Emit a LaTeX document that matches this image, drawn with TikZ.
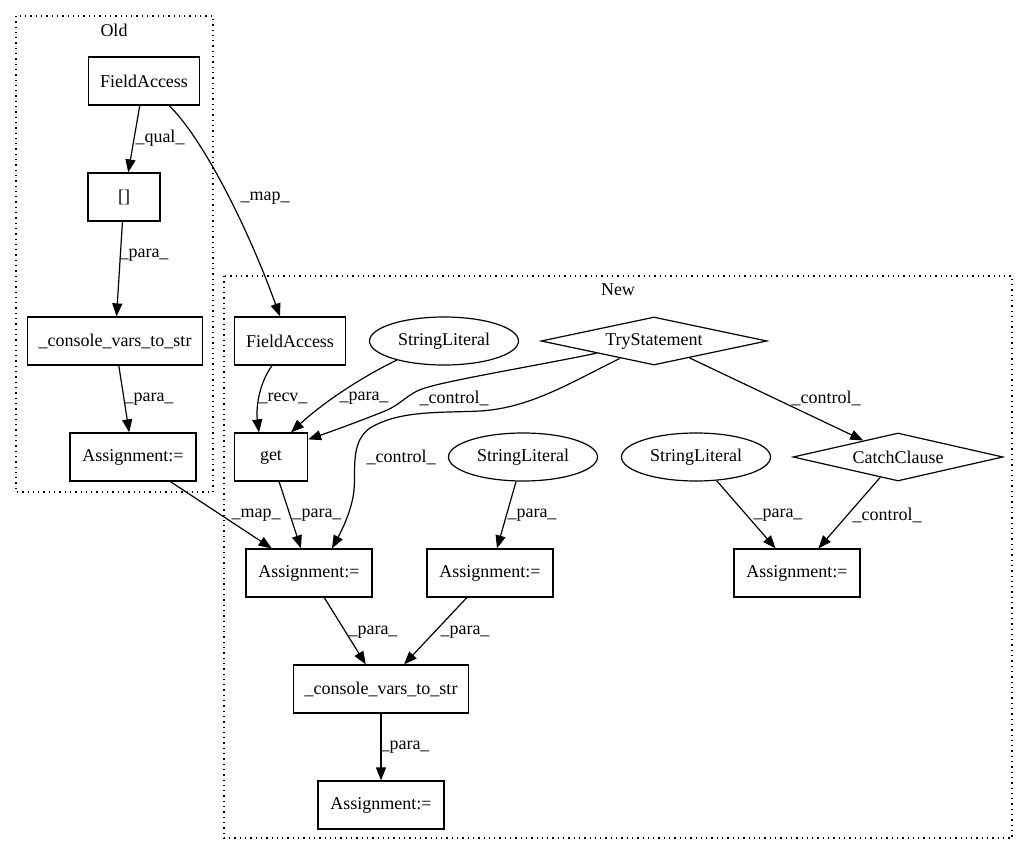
\documentclass[tikz,border=0pt]{standalone}
\usepackage{fontspec}
\setmainfont{Liberation Serif}
\usetikzlibrary{arrows.meta,shapes.geometric}

\begin{document}
\begin{tikzpicture}[x = 1pt, y = -1pt, > = {Triangle[length = 13pt, width = 10pt]},
    every node/.style = {font = \fontsize{18}{22}\selectfont, inner sep = 0pt},
    box/.style = {draw, rectangle, minimum height = 48pt, line width = 1.2pt},
    literal/.style = {draw, ellipse, minimum width = 149pt, minimum height = 48pt, line width = 1.2pt},
    branch/.style = {draw, diamond, aspect = 4.5, minimum height = 48pt, line width = 1.2pt},
    group/.style = {draw, dash pattern = on 1.3pt off 4pt, line width = 1.2pt},
    link/.style = {->, line width = 1.2pt}]
    \useasboundingbox (0,0) rectangle (1029,856);
        \draw[group] (16,16) rectangle (213,492);
        \node (oldtitle) at (114,30) {Old};
        \draw[group] (224,276) rectangle (1012,838);
        \node (newtitle) at (618,290) {New};

        \node[box, minimum width = 111pt] (oldfield) at (144,81) {FieldAccess};
        \node[box, minimum width = 72pt] (oldindex) at (124,197) {[]};
        \node[box, minimum width = 175pt] (oldconsole) at (115,341) {\_console\_vars\_to\_str};
        \node[box, minimum width = 126pt] (oldassign) at (133,457) {Assignment:=};

        \node[box, minimum width = 111pt] (newfield) at (290,341) {FieldAccess};
        \node[literal] (lit1) at (444,341) {StringLiteral};
        \node[branch, minimum width = 226pt] (try) at (654,341) {TryStatement};
        \node[box, minimum width = 73pt] (get) at (271,457) {get};
        \node[literal] (lit2) at (523,457) {StringLiteral};
        \node[literal] (lit3) at (696,457) {StringLiteral};
        \node[branch, minimum width = 210pt] (catch) at (898,457) {CatchClause};
        \node[box, minimum width = 126pt] (assign1) at (309,573) {Assignment:=};
        \node[box, minimum width = 126pt] (assign2) at (490,573) {Assignment:=};
        \node[box, minimum width = 126pt] (assign3) at (797,573) {Assignment:=};
        \node[box, minimum width = 175pt] (newconsole) at (381,689) {\_console\_vars\_to\_str};
        \node[box, minimum width = 126pt] (newassign) at (381,805) {Assignment:=};

        \draw[link] (oldfield) -- (oldindex);
        \draw[link] ([xshift = 25pt]oldfield.south) .. controls (200,135) and (245,220) .. ([xshift = -10pt]newfield.north);
        \draw[link] (oldindex) -- (oldconsole);
        \draw[link] (oldconsole) -- (oldassign);
        \draw[link] (oldassign) -- (assign1);
        \draw[link] ([xshift = -18pt]newfield.south) .. controls (258,385) and (256,410) .. ([xshift = -12pt]get.north);
        \draw[link] (lit1.202) .. controls (350,383) and (315,410) .. ([xshift = 20pt]get.north);
        \draw[link] (try.192) .. controls (540,365) and (450,380) .. (425,388) .. controls (408,393) and (402,404) .. (385,411) .. controls (360,421) and (330,432) .. ([yshift = -7pt]get.north east);
        \draw[link] (try.207) .. controls (570,383) and (530,408) .. (480,411) .. controls (440,413) and (400,410) .. (370,428) .. controls (350,442) and (356,470) .. (354,490) .. controls (352,510) and (342,530) .. ([xshift = 23pt]assign1.north);
        \draw[link] (try) -- (catch);
        \draw[link] (get) -- (assign1);
        \draw[link] (lit2) -- (assign2);
        \draw[link] (lit3) -- (assign3);
        \draw[link] (catch) -- (assign3);
        \draw[link] (assign1) -- (newconsole);
        \draw[link] (assign2) -- (newconsole);
        \draw[link] (newconsole) -- (newassign);

        \node (lqual) at (160,138) {\_qual\_};
        \node (lmapold) at (265,198) {\_map\_};
        \node (lparaindex) at (144,255) {\_para\_};
        \node (lparaold) at (149,399) {\_para\_};
        \node (lrecv) at (283,398) {\_recv\_};
        \node (lparaget) at (364,398) {\_para\_};
        \node (lctrlget) at (454,398) {\_control\_};
        \node (lctrlassign) at (401,457) {\_control\_};
        \node (lctrlcatch) at (826,398) {\_control\_};
        \node (lmapnew) at (256,515) {\_map\_};
        \node (lparaone) at (317,515) {\_para\_};
        \node (lparatwo) at (532,515) {\_para\_};
        \node (lparathree) at (778,515) {\_para\_};
        \node (lctrlthree) at (887,515) {\_control\_};
        \node (lparaleft) at (373,632) {\_para\_};
        \node (lpararight) at (465,632) {\_para\_};
        \node (lparabottom) at (405,747) {\_para\_};
\end{tikzpicture}
\end{document}
